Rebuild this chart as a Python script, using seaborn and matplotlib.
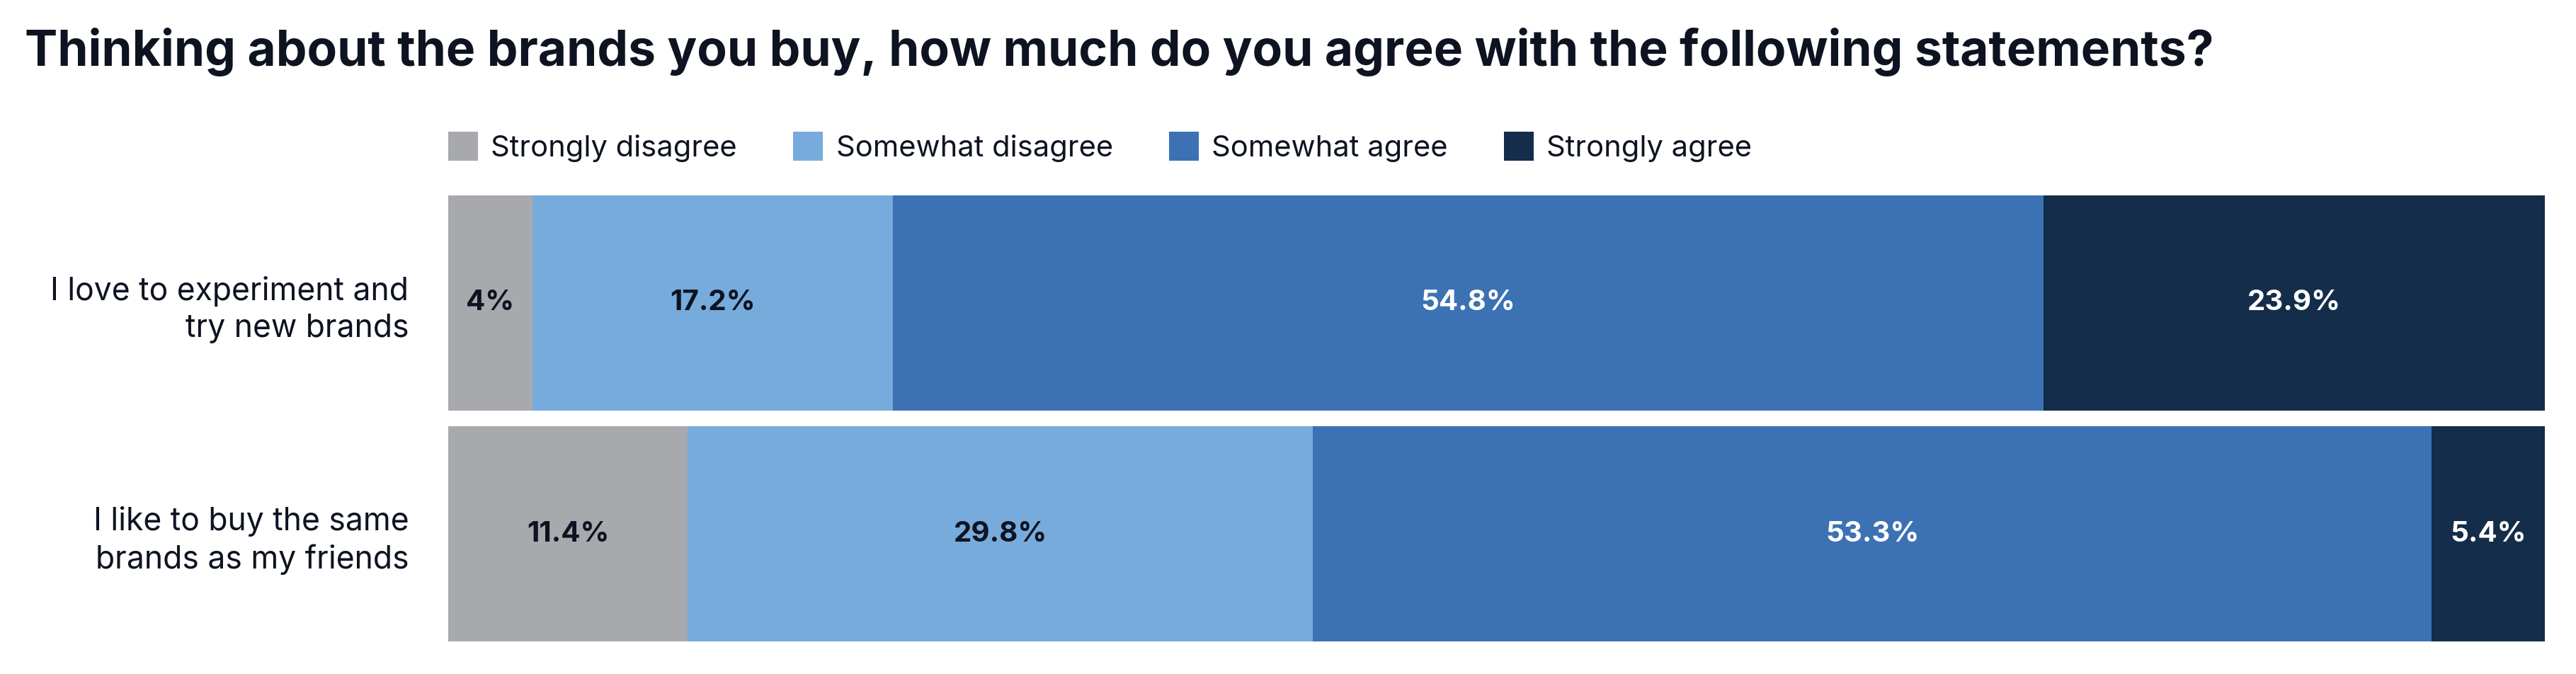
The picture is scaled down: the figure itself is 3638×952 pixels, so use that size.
import numpy as np
import pandas as pd
import matplotlib
matplotlib.use("Agg")
import matplotlib.pyplot as plt
from matplotlib.patches import Patch
import seaborn as sns

statements = ["I love to experiment and\ntry new brands",
              "I like to buy the same\nbrands as my friends"]
answers = ["Strongly disagree", "Somewhat disagree", "Somewhat agree", "Strongly agree"]
strongly_disagree = [4.0, 11.4]
somewhat_disagree = [17.2, 29.8]
somewhat_agree = [54.8, 53.3]
strongly_agree = [23.9, 5.4]
value_labels = [["4%", "11.4%"], ["17.2%", "29.8%"], ["54.8%", "53.3%"], ["23.9%", "5.4%"]]

colors = ["#A7A9AD", "#77ABDC", "#3C72B4", "#142D4A"]
label_colors = ["#0E1321", "#0E1321", "white", "white"]
ink = "#0E1321"

sns.set_style("white")
plt.rcParams["font.family"] = ["Inter", "DejaVu Sans"]

df = pd.DataFrame({"statement": statements,
                   answers[0]: strongly_disagree,
                   answers[1]: somewhat_disagree,
                   answers[2]: somewhat_agree,
                   answers[3]: strongly_agree})
cum = df[answers].cumsum(axis=1)

fig = plt.figure(figsize=(36.38, 9.52), dpi=100)
ax = fig.add_axes([0.174, 0.0483, 0.814, 0.6618])

# stacked bars: draw cumulative totals from the longest down
for i in reversed(range(len(answers))):
    sns.barplot(x=cum[answers[i]], y=df["statement"], color=colors[i], saturation=1,
                orient="h", width=0.93, ax=ax, edgecolor="none", linewidth=0)

for i, a in enumerate(answers):
    mids = cum[a] - df[a] / 2
    for j, m in enumerate(mids):
        ax.text(m, j, value_labels[i][j], ha="center", va="center",
                fontsize=29, fontweight="bold", color=label_colors[i])

ax.set_xlim(0, cum[answers[-1]].max())
ax.set_ylim(1.465, -0.465)
ax.set_xlabel("")
ax.set_ylabel("")
ax.set_xticks([])
ax.tick_params(axis="y", length=0, pad=40, labelsize=32, labelcolor=ink)
for lab in ax.get_yticklabels():
    lab.set_linespacing(1.3)
sns.despine(ax=ax, left=True, bottom=True)

handles = [Patch(facecolor=c, edgecolor="none", label=a) for a, c in zip(answers, colors)]
ax.legend(handles=handles, ncol=4, loc="lower left", bbox_to_anchor=(0, 1.075),
          frameon=False, borderaxespad=0, borderpad=0, fontsize=30,
          handlelength=1.0, handleheight=1.15, handletextpad=0.45,
          columnspacing=1.9, labelcolor=ink)

fig.text(0.0096, 0.902, "Thinking about the brands you buy, how much do you agree with the following statements?",
         fontsize=50, fontweight="bold", color=ink, ha="left", va="baseline")

fig.savefig("out.png", dpi=100, facecolor="white")
